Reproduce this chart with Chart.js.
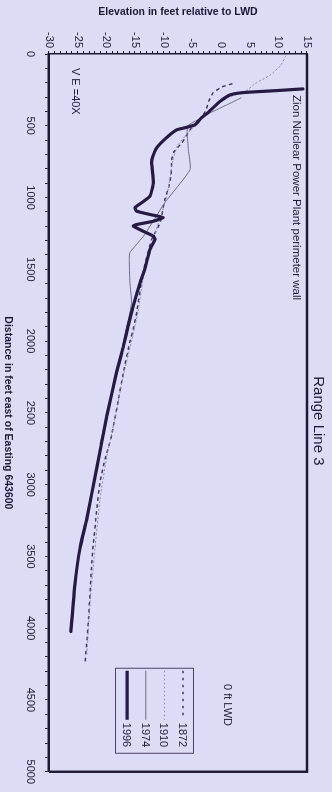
<!DOCTYPE html>
<html>
<head>
<meta charset="utf-8">
<script src="https://cdn.jsdelivr.net/npm/chart.js@4.4.1/dist/chart.umd.min.js"></script>
<style>
  html, body { margin: 0; padding: 0; background: #dddcf7; overflow: hidden; }
  #page { position: relative; width: 332px; height: 792px; overflow: hidden; background: #dddcf7; }
  /* the profile is laid out landscape and turned a quarter clockwise */
  #wrap { position: absolute; left: 0; top: 0; width: 792px; height: 332px;
          transform-origin: 0 0; transform: translate(332px, 0) rotate(90deg); }
  canvas { display: block; }
</style>
</head>
<body>
<div id="page"><div id="wrap"><canvas id="c" width="792" height="332"></canvas></div></div>
<script>
// Range Line 3 beach/nearshore profiles: distance east (ft) vs elevation relative to LWD (ft)
const surveyYears = ['1872', '1910', '1974', '1996'];

const dist1872 = [208, 229, 271, 326, 389, 458, 528, 618, 681, 736, 840, 924, 1014, 1174, 1222, 1292, 1521, 1799, 1917, 2007, 2215, 2472, 2660, 2819, 2979, 3188, 3424, 3583, 3931, 4243];
const elev1872 = [1.9, 0.2, -1.4, -2.1, -2.6, -3.7, -5.4, -6.8, -8.2, -8.6, -8.7, -9.1, -9.8, -10.6, -11.2, -12.1, -13.6, -14.7, -15.3, -15.9, -17.0, -18.2, -19.1, -20.2, -21.1, -21.7, -22.3, -22.6, -23.1, -23.7];

const dist1910 = [14, 80, 146, 205, 262, 300, 360, 430, 500, 560, 640, 740, 860, 1000, 1150, 1300, 1520, 1800, 2000, 2250, 2500, 2800, 3100, 3450, 3800, 4180];
const elev1910 = [11.3, 10.4, 8.6, 6.0, 4.2, 1.4, -1.0, -2.8, -4.6, -6.0, -7.6, -8.4, -8.9, -9.5, -10.7, -11.9, -13.4, -14.5, -15.6, -17.1, -18.3, -19.9, -21.1, -22.0, -22.8, -23.4];

const dist1974 = [306, 347, 410, 451, 500, 549, 667, 806, 1035, 1257, 1384, 1431, 1590, 1729, 1847, 1986, 2215, 2521, 2715];
const elev1974 = [3.5, 1.4, -1.9, -3.7, -5.8, -5.9, -5.7, -5.4, -9.8, -13.3, -15.9, -16.0, -15.9, -15.6, -16.1, -16.9, -18.1, -19.9, -21.1];

const dist1996 = [243, 255, 269, 285, 331, 375, 410, 444, 493, 514, 528, 583, 653, 715, 757, 896, 991, 1035, 1069, 1095, 1118, 1139, 1165, 1188, 1199, 1234, 1269, 1292, 1361, 1500, 1590, 1755, 1894, 2033, 2215, 2519, 2889, 3236, 3444, 3699, 4023];
const elev1996 = [14.3, 9.7, 3.8, 1.6, -0.2, -1.4, -2.3, -3.4, -4.5, -6.3, -7.7, -9.5, -11.2, -11.9, -12.1, -11.8, -12.4, -13.8, -15.0, -14.7, -12.4, -10.1, -11.8, -14.7, -15.3, -13.6, -11.8, -11.5, -12.4, -13.3, -14.1, -15.3, -16.2, -17.0, -18.2, -19.9, -21.7, -23.4, -24.6, -25.5, -26.2];

// axis ranges and labelled ticks
const distRange = [0, 5000];
const distLabelStep = 500;
const elevRange = [-30, 15];
const elevLabelStep = 5;

const INK = '#1e1a36';
const FONT = "'Liberation Sans', Arial, sans-serif";

function pts(xs, ys) { return xs.map((x, i) => ({ x: x, y: ys[i] })); }

const datasets = [
  { label: surveyYears[0], data: pts(dist1872, elev1872), borderColor: '#413a5e', borderWidth: 1.5, borderDash: [2.5, 4.5], order: 4 },
  { label: surveyYears[1], data: pts(dist1910, elev1910), borderColor: '#8e8aa8', borderWidth: 1, borderDash: [1.5, 2.5], order: 3 },
  { label: surveyYears[2], data: pts(dist1974, elev1974), borderColor: '#6f6a86', borderWidth: 1, order: 2 },
  { label: surveyYears[3], data: pts(dist1996, elev1996), borderColor: '#261943', borderWidth: 3.2, order: 1 }
];
datasets.forEach(d => { d.pointRadius = 0; d.fill = false; d.tension = 0.15; d.borderCapStyle = 'round'; d.borderJoinStyle = 'round'; });

// frame, titles, notes and the boxed key
const decorations = {
  id: 'decorations',
  afterDatasetsDraw(chart) {
    const { ctx, chartArea: a, scales } = chart;
    const xs = scales.x, ys = scales.y;
    ctx.save();
    // remaining sides of the plot box
    ctx.strokeStyle = INK;
    ctx.lineWidth = 2.4;
    ctx.beginPath();
    ctx.moveTo(a.left, a.top); ctx.lineTo(a.right, a.top); ctx.lineTo(a.right, a.bottom);
    ctx.stroke();

    ctx.fillStyle = INK;
    ctx.textBaseline = 'middle';
    // chart title
    ctx.font = '15px ' + FONT;
    ctx.textAlign = 'center';
    ctx.fillText('Range Line 3', (a.left + a.right) / 2 + 8, 14);

    // notes inside the plot
    ctx.textAlign = 'left';
    ctx.font = '11.5px ' + FONT;
    ctx.fillText('Zion Nuclear Power Plant perimeter wall', xs.getPixelForValue(285), ys.getPixelForValue(13.1));
    ctx.font = '11px ' + FONT;
    ctx.fillText('V E =40X', xs.getPixelForValue(97), ys.getPixelForValue(-25.5));
    ctx.textAlign = 'center';
    ctx.fillText('0 ft LWD', xs.getPixelForValue(4535), ys.getPixelForValue(1.0));

    // key
    const bx = a.right - 104, by = a.top + 113, bw = 85, bh = 78;
    ctx.lineWidth = 1;
    ctx.strokeStyle = '#4a4562';
    ctx.strokeRect(bx + 0.5, by + 0.5, bw, bh);
    ctx.textAlign = 'left';
    ctx.font = '11px ' + FONT;
    chart.data.datasets.forEach((ds, i) => {
      const yy = by + 11 + i * 18.6;
      ctx.save();
      ctx.strokeStyle = ds.borderColor;
      ctx.lineWidth = ds.borderWidth;
      ctx.setLineDash(ds.borderDash || []);
      ctx.lineCap = 'butt';
      ctx.beginPath();
      ctx.moveTo(bx + 3, yy); ctx.lineTo(bx + 52, yy);
      ctx.stroke();
      ctx.restore();
      ctx.fillStyle = INK;
      ctx.fillText(ds.label, bx + 55, yy + 1);
    });
    ctx.restore();
  }
};

const bg = {
  id: 'bg',
  beforeDraw(chart) {
    const { ctx, width, height } = chart;
    ctx.save();
    ctx.fillStyle = '#dddcf7';
    ctx.fillRect(0, 0, width, height);
    ctx.restore();
  }
};

new Chart(document.getElementById('c'), {
  type: 'line',
  data: { datasets: datasets },
  options: {
    responsive: false,
    animation: false,
    devicePixelRatio: 1,
    layout: { padding: { top: 25, right: 18, left: 0, bottom: 0 } },
    plugins: { legend: { display: false }, title: { display: false }, tooltip: { enabled: false } },
    scales: {
      x: {
        type: 'linear', position: 'bottom', min: distRange[0], max: distRange[1],
        afterFit(s) { s.height = 49; },
        ticks: {
          stepSize: 100, autoSkip: false, maxRotation: 0, minRotation: 0, padding: 8,
          color: INK, font: { family: FONT, size: 11 },
          callback: v => (v % distLabelStep === 0 ? String(v) : '')
        },
        grid: { drawOnChartArea: false, drawTicks: true, tickLength: 4, color: INK, tickWidth: 1 },
        border: { display: true, color: INK, width: 2.4 },
        title: {
          display: true, text: 'Distance in feet east of Easting 643600',
          color: INK, font: { family: FONT, size: 10.5, weight: 'bold' }, padding: { top: 0, bottom: 2 }
        }
      },
      y: {
        type: 'linear', position: 'left', min: elevRange[0], max: elevRange[1],
        afterFit(s) { s.width = 54; },
        ticks: {
          stepSize: 1, autoSkip: false, padding: 3,
          color: INK, font: { family: FONT, size: 11 },
          callback: v => (v % elevLabelStep === 0 ? String(v) : '')
        },
        grid: { drawOnChartArea: false, drawTicks: true, tickLength: 3, color: INK, tickWidth: 1 },
        border: { display: true, color: INK, width: 1.5 },
        title: {
          display: true, text: 'Elevation in feet relative to LWD',
          color: INK, font: { family: FONT, size: 10.5, weight: 'bold' }, padding: { top: 6, bottom: 0 }
        }
      }
    }
  },
  plugins: [bg, decorations]
});
</script>
</body>
</html>
